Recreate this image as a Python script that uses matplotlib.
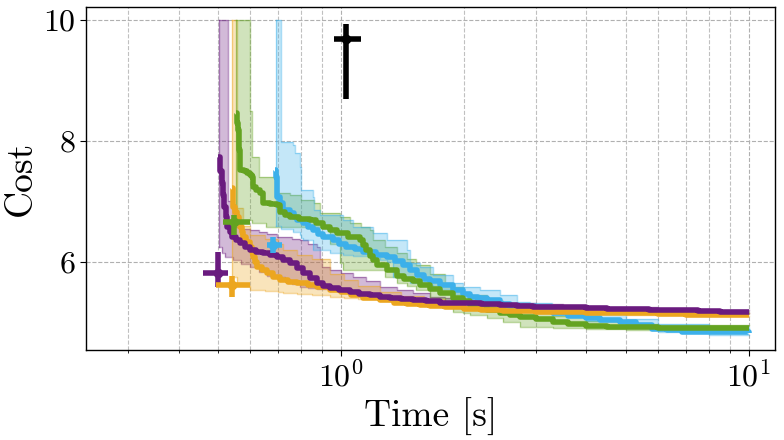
import numpy as np
import matplotlib
matplotlib.use("Agg")
import matplotlib.pyplot as plt
from matplotlib.ticker import LogLocator, NullFormatter

plt.rcParams['font.family'] = 'serif'
plt.rcParams['font.serif'] = ['cmr10', 'DejaVu Serif']
plt.rcParams['mathtext.fontset'] = 'cm'
plt.rcParams['axes.formatter.use_mathtext'] = True

# ---------------- data ----------------
colors = {'purple': '#6a1b7f', 'orange': '#eca61f', 'green': '#64a321', 'blue': '#3cb0ea'}

# mean curves
purple_t = [0.50, 0.505, 0.511, 0.514, 0.518, 0.522, 0.526, 0.533, 0.541, 0.552, 0.566, 0.582, 0.598,
            0.620, 0.644, 0.670, 0.697, 0.72, 0.750, 0.78, 0.807, 0.84, 0.873, 0.905, 0.940, 0.99,
            1.05, 1.11, 1.18, 1.25, 1.32, 1.40, 1.50, 1.62, 1.75, 1.96, 2.2, 2.45, 2.7, 2.95, 3.4,
            4.0, 4.5, 5.0, 5.7, 6.5, 7.5, 8.5, 10.0]
purple_c = [7.74, 7.50, 7.31, 7.10, 6.91, 6.75, 6.58, 6.50, 6.41, 6.36, 6.31, 6.25, 6.20,
            6.17, 6.15, 6.11, 6.08, 6.03, 5.98, 5.90, 5.82, 5.73, 5.65, 5.61, 5.57, 5.54,
            5.50, 5.47, 5.45, 5.42, 5.40, 5.38, 5.37, 5.35, 5.33, 5.32, 5.30, 5.29, 5.27, 5.26, 5.25,
            5.24, 5.23, 5.22, 5.21, 5.20, 5.19, 5.18, 5.17]

orange_t = [0.541, 0.544, 0.550, 0.556, 0.561, 0.566, 0.571, 0.575, 0.585, 0.598, 0.604, 0.609, 0.615,
            0.622, 0.64, 0.658, 0.68, 0.709, 0.74, 0.78, 0.83, 0.873, 0.94, 1.0, 1.06, 1.13, 1.25,
            1.35, 1.45, 1.56, 1.65, 1.8, 2.0, 2.2, 2.5, 3.0, 3.5, 4.0, 5.0, 6.0, 7.0, 8.5, 10.0]
orange_c = [7.22, 6.91, 6.82, 6.74, 6.66, 6.58, 6.50, 6.41, 6.33, 6.25, 6.16, 6.08, 6.00,
            5.92, 5.87, 5.82, 5.76, 5.70, 5.67, 5.65, 5.62, 5.59, 5.54, 5.50, 5.45, 5.40, 5.37,
            5.33, 5.31, 5.29, 5.27, 5.25, 5.22, 5.21, 5.19, 5.18, 5.17, 5.16, 5.15, 5.14, 5.13, 5.125, 5.12]

green_t = [0.553, 0.556, 0.559, 0.562, 0.566, 0.577, 0.588, 0.597, 0.605, 0.609, 0.62, 0.633, 0.644,
           0.67, 0.697, 0.709, 0.73, 0.750, 0.79, 0.839, 0.87, 0.903, 0.94, 0.978, 1.04, 1.113,
           1.13, 1.15, 1.178, 1.20, 1.225, 1.30, 1.37, 1.43, 1.50, 1.56, 1.65, 1.75, 1.88, 1.99,
           2.07, 2.19, 2.28, 2.45, 2.6, 2.75, 3.0, 3.31, 3.6, 4.0, 4.5, 5.0, 6.0, 7.5, 10.0]
green_c = [8.46, 8.30, 8.18, 7.85, 7.52, 7.50, 7.47, 7.43, 7.40, 7.24, 7.19, 7.14, 6.98,
           6.96, 6.94, 6.83, 6.78, 6.74, 6.71, 6.69, 6.64, 6.58, 6.53, 6.48, 6.42, 6.36,
           6.28, 6.20, 6.10, 6.03, 5.95, 5.87, 5.77, 5.72, 5.68, 5.62, 5.56, 5.49, 5.40, 5.35,
           5.29, 5.25, 5.21, 5.16, 5.12, 5.09, 5.05, 5.01, 4.97, 4.94, 4.93, 4.92, 4.915, 4.91, 4.91]

blue_t = [0.689, 0.692, 0.695, 0.697, 0.709, 0.72, 0.75, 0.765, 0.78, 0.807, 0.83, 0.854, 0.88,
          0.903, 0.956, 0.99, 1.03, 1.08, 1.13, 1.22, 1.30, 1.36, 1.42, 1.48, 1.54, 1.60, 1.65,
          1.75, 1.88, 1.99, 2.07, 2.17, 2.28, 2.45, 2.6, 2.75, 3.0, 3.31, 3.6, 4.0, 4.31, 4.83,
          5.3, 5.8, 6.3, 6.88, 8.0, 10.0]
blue_c = [7.52, 7.40, 7.20, 7.07, 6.98, 6.86, 6.81, 6.75, 6.69, 6.64, 6.58, 6.53, 6.47,
          6.41, 6.36, 6.30, 6.25, 6.21, 6.17, 6.12, 6.08, 6.02, 5.95, 5.87, 5.79, 5.72, 5.68,
          5.62, 5.54, 5.47, 5.42, 5.40, 5.37, 5.30, 5.27, 5.24, 5.20, 5.16, 5.11, 5.07, 5.04, 5.00,
          4.95, 4.90, 4.87, 4.84, 4.835, 4.83]

# bands (min / max envelopes)
purple_bt = [0.503, 0.510, 0.520, 0.528, 0.545, 0.57, 0.598, 0.63, 0.66, 0.697, 0.73, 0.76, 0.793,
             0.83, 0.873, 0.89, 0.90, 0.94, 1.0, 1.07, 1.15, 1.25, 1.37, 1.5, 1.65, 1.8, 2.0, 2.25,
             2.5, 3.0, 3.5, 4.5, 6.0, 8.0, 10.0]
purple_hi = [10.0, 10.0, 10.0, 7.0, 6.58, 6.55, 6.53, 6.50, 6.47, 6.41, 6.41, 6.38, 6.36,
             6.30, 6.25, 6.05, 5.92, 5.87, 5.82, 5.75, 5.68, 5.59, 5.54, 5.48, 5.42, 5.40, 5.37, 5.35,
             5.33, 5.30, 5.28, 5.25, 5.22, 5.21, 5.20]
purple_lo = [6.25, 6.15, 6.08, 6.08, 6.03, 5.97, 5.92, 5.84, 5.77, 5.75, 5.68, 5.63, 5.59,
             5.57, 5.56, 5.555, 5.55, 5.54, 5.50, 5.47, 5.42, 5.37, 5.35, 5.34, 5.33, 5.31, 5.30, 5.28,
             5.26, 5.24, 5.22, 5.20, 5.17, 5.16, 5.15]

orange_bt = [0.541, 0.556, 0.575, 0.598, 0.65, 0.70, 0.72, 0.78, 0.85, 0.94, 1.02, 1.1, 1.25, 1.4,
             1.6, 1.8, 2.0, 2.5, 3.0, 4.0, 5.0, 7.0, 10.0]
orange_hi = [10.0, 6.9, 6.6, 6.45, 6.38, 6.3, 6.2, 6.12, 6.05, 5.8, 5.7, 5.6, 5.5, 5.43,
             5.38, 5.32, 5.28, 5.25, 5.22, 5.19, 5.17, 5.16, 5.15]
orange_lo = [5.75, 5.65, 5.60, 5.54, 5.52, 5.50, 5.49, 5.47, 5.45, 5.42, 5.40, 5.38, 5.35, 5.31,
             5.28, 5.25, 5.22, 5.19, 5.16, 5.14, 5.13, 5.11, 5.10]

green_bt = [0.553, 0.598, 0.605, 0.63, 0.655, 0.68, 0.70, 0.75, 0.80, 0.86, 0.888, 0.94, 0.994,
            1.01, 1.05, 1.12, 1.18, 1.2, 1.28, 1.37, 1.45, 1.53, 1.65, 1.80, 1.88, 1.99, 2.07,
            2.28, 2.49, 2.75, 3.31, 4.0, 5.0, 6.0, 8.0, 10.0]
green_hi = [10.0, 8.5, 7.74, 7.40, 7.40, 7.40, 7.14, 7.10, 7.02, 6.98, 6.81, 6.81, 6.74,
            6.74, 6.64, 6.58, 6.53, 6.36, 6.25, 6.15, 6.05, 5.95, 5.80, 5.65, 5.58, 5.50, 5.45,
            5.35, 5.27, 5.18, 5.10, 5.03, 4.98, 4.96, 4.95, 4.95]
green_lo = [6.70, 6.70, 6.64, 6.64, 6.58, 6.58, 6.58, 6.58, 6.58, 6.58, 6.58, 6.30, 5.98,
            5.87, 5.87, 5.87, 5.87, 5.87, 5.75, 5.65, 5.60, 5.54, 5.40, 5.30, 5.18, 5.15, 5.13,
            5.07, 5.01, 4.93, 4.91, 4.89, 4.88, 4.87, 4.86, 4.86]

blue_bt = [0.692, 0.712, 0.763, 0.77, 0.793, 0.80, 0.807, 0.854, 0.86, 0.888, 0.94, 1.01, 1.07,
           1.2, 1.25, 1.3, 1.34, 1.45, 1.476, 1.56, 1.68, 1.88, 1.99, 2.19, 2.45, 2.7, 2.9,
           3.3, 4.0, 5.0, 6.0, 8.0, 10.0]
blue_hi = [10.0, 7.98, 7.93, 7.80, 7.57, 7.19, 7.19, 7.07, 6.86, 6.78, 6.78, 6.69, 6.58,
           6.48, 6.48, 6.36, 6.36, 6.20, 5.98, 5.92, 5.79, 5.65, 5.59, 5.54, 5.45, 5.34, 5.32,
           5.26, 5.15, 5.06, 4.98, 4.92, 4.90]
blue_lo = [6.60, 6.55, 6.50, 6.50, 6.45, 6.40, 6.36, 6.20, 6.20, 6.20, 6.15, 6.12, 6.10,
           6.06, 6.03, 6.00, 5.75, 5.70, 5.66, 5.62, 5.56, 5.47, 5.42, 5.33, 5.25, 5.20, 5.17,
           5.12, 5.02, 4.93, 4.85, 4.80, 4.79]

# error-bar crosses
cross_names = ['black', 'purple', 'orange', 'green', 'blue']
cross_t = [1.03, 0.50, 0.541, 0.547, 0.681]
cross_tlo = [0.96, 0.459, 0.494, 0.514, 0.659]
cross_thi = [1.12, 0.528, 0.598, 0.598, 0.717]
cross_c = [9.69, 5.82, 5.62, 6.66, 6.28]
cross_clo = [8.69, 5.59, 5.42, 6.45, 6.15]
cross_chi = [9.93, 6.165, 5.77, 6.78, 6.41]

# ---------------- plot ----------------
fig = plt.figure(figsize=(7.84, 4.40), dpi=100)
ax = fig.add_axes([86/784, 90/440, 689/784, 343/440])
ax.set_xscale('log')

bands = [('purple', purple_bt, purple_lo, purple_hi),
         ('orange', orange_bt, orange_lo, orange_hi),
         ('green', green_bt, green_lo, green_hi),
         ('blue', blue_bt, blue_lo, blue_hi)]
for name, bt, lo, hi in bands:
    col = colors[name]
    ax.fill_between(bt, lo, hi, step='post', color=col, alpha=0.3, lw=0, zorder=2)
    ax.step(bt, hi, where='post', color=col, alpha=0.45, lw=1.0, zorder=2)
    ax.step(bt, lo, where='post', color=col, alpha=0.45, lw=1.0, zorder=2)
    ax.plot([bt[0], bt[0]], [lo[0], hi[0]], color=col, alpha=0.45, lw=1.0, zorder=2)

lines = [('blue', blue_t, blue_c), ('green', green_t, green_c),
         ('orange', orange_t, orange_c), ('purple', purple_t, purple_c)]
for name, t, c in lines:
    ax.step(t, c, where='post', color=colors[name], lw=4, zorder=4,
            solid_joinstyle='round', solid_capstyle='butt')

for i, name in enumerate(cross_names):
    col = 'black' if name == 'black' else colors[name]
    xe = [[cross_t[i] - cross_tlo[i]], [cross_thi[i] - cross_t[i]]]
    ye = [[cross_c[i] - cross_clo[i]], [cross_chi[i] - cross_c[i]]]
    ax.errorbar([cross_t[i]], [cross_c[i]], xerr=xe, yerr=ye, fmt='o', color=col,
                ms=6, elinewidth=4, capsize=0, zorder=6)

ax.set_xlim(0.237, 11.6)
ax.set_ylim(4.545, 10.215)
ax.set_yticks([6, 8, 10])
ax.xaxis.set_major_locator(LogLocator(base=10, numticks=10))
ax.xaxis.set_minor_locator(LogLocator(base=10, subs=np.arange(2, 10), numticks=20))
ax.xaxis.set_minor_formatter(NullFormatter())
ax.grid(True, which='major', linestyle='--', color='#b0b0b0', lw=0.8)
ax.grid(True, which='minor', axis='x', linestyle='--', color='#c0c0c0', lw=0.8)
ax.set_axisbelow(True)
ax.tick_params(axis='both', which='major', labelsize=23, length=4)
ax.tick_params(axis='x', which='minor', length=2)
for s in ax.spines.values():
    s.set_linewidth(1.0)
ax.set_xlabel('Time [s]', fontsize=27)
ax.set_ylabel('Cost', fontsize=27)

fig.savefig('out.png', dpi=100)
